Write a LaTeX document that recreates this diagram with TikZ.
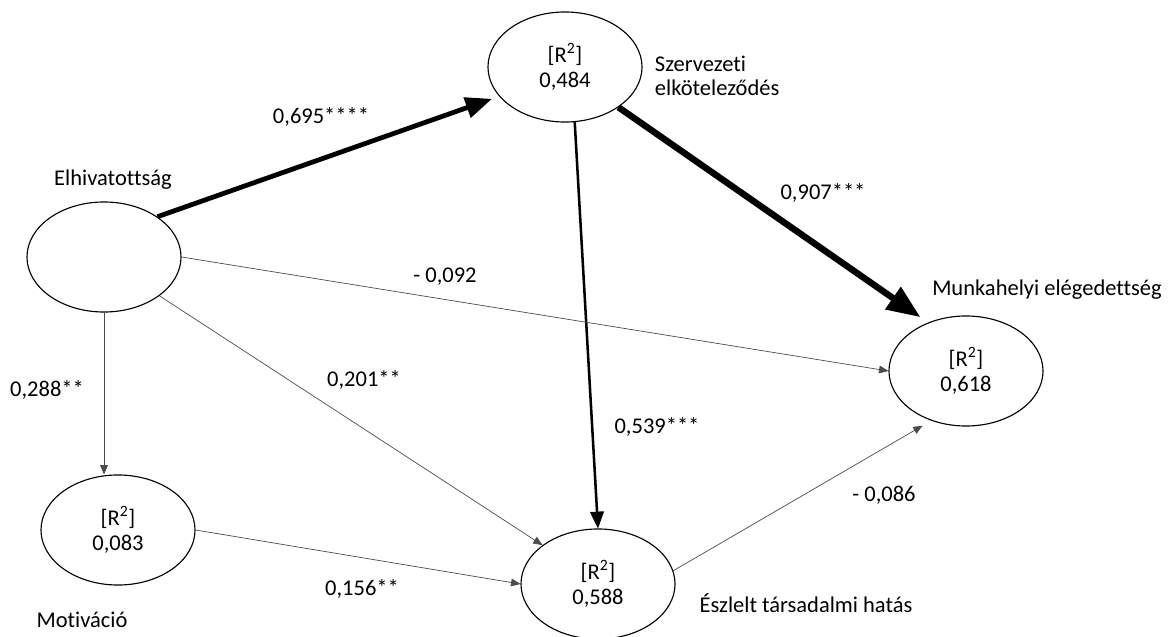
\documentclass[tikz,border=0pt]{standalone}
\usepackage{fontspec}
\setmainfont{Carlito}[Ligatures=NoCommon]
\usetikzlibrary{arrows,shapes.geometric}
\definecolor{ThinClr}{rgb}{0.3,0.3,0.3}

\begin{document}
\begin{tikzpicture}[x=0.025cm,y=-0.025cm,
  every node/.style={font=\fontsize{16}{17.5}\selectfont},
  latent/.style={ellipse,draw,line width=0.8pt,minimum width=3.85cm,minimum height=2.75cm,inner sep=0pt,align=center},
  thinarr/.style={-triangle 45,line width=0.5pt,color=ThinClr},
  midarr/.style={-triangle 45,line width=1.8pt},
  bigarr/.style={-triangle 45,line width=3.4pt},
  hugearr/.style={-triangle 45,line width=4.6pt}]
\useasboundingbox (0,0) rectangle (1173,637);

\node[latent] (elh) at (104,257) {};
\node[latent] (szerv) at (565,67) {[R\textsuperscript{2}]\\0,484};
\node[latent] (munk) at (966,371) {[R\textsuperscript{2}]\\0,618};
\node[latent] (motiv) at (118,530) {[R\textsuperscript{2}]\\0,083};
\node[latent] (eszl) at (598,584) {[R\textsuperscript{2}]\\0,588};

\node (elhL) at (113,180) {Elhivatottság};
\node[anchor=west,align=left] (szervL) at (650,76) {Szervezeti\\elköteleződés};
\node (munkL) at (1047,290) {Munkahelyi elégedettség};
\node (motivL) at (82,620) {Motiváció};
\node (eszlL) at (806,603) {Észlelt társadalmi hatás};

\draw[bigarr,shorten >=0.2cm] (elh.37) -- (szerv.204);
\draw[hugearr,shorten >=0.25cm] (szerv.-37) -- (munk.128);
\draw[midarr] (szerv.-80) -- (eszl.north);
\draw[thinarr] (elh.east) -- (munk.west);
\draw[thinarr] (elh.-35) -- (eszl.145);
\draw[thinarr] (elh.south) -- (elh.south |- motiv.north);
\draw[thinarr] (motiv.east) -- (eszl.west);
\draw[thinarr,shorten >=0.25cm] (eszl.10) -- (munk.235);

\node (c695) at (321,117) {0,695****};
\node (c907) at (823,193) {0,907***};
\node (c092) at (445,277) {- 0,092};
\node (c288) at (47,390) {0,288**};
\node (c201) at (364,380) {0,201**};
\node (c539) at (657,427) {0,539***};
\node (c086) at (884,495) {- 0,086};
\node (c156) at (362,589) {0,156**};

\end{tikzpicture}
\end{document}
